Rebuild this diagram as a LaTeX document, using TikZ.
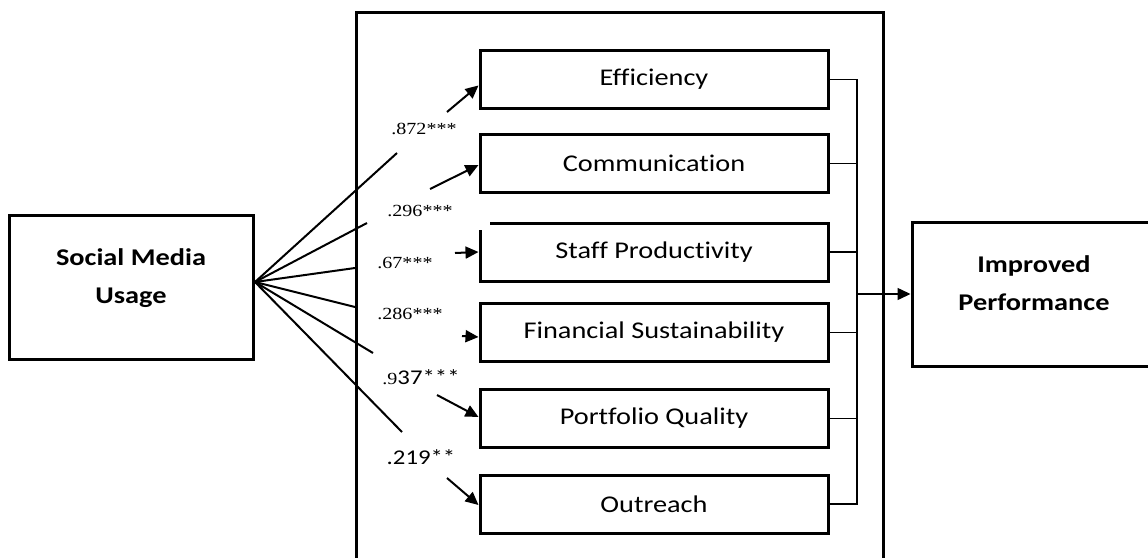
\documentclass[tikz,border=0pt]{standalone}
\usepackage{fontspec}
\setmainfont{Carlito}[FakeStretch=1.18,Ligatures=NoCommon]
\newfontfamily\seriffont{Liberation Serif}[FakeStretch=1.18]
\usetikzlibrary{arrows.meta}
\begin{document}
\begin{tikzpicture}[x=1pt,y=-1pt,
  box/.style={draw,line width=3pt,rectangle,inner sep=0pt,minimum height=58pt,
    minimum width=348pt,font=\fontsize{24}{29}\selectfont},
  bigbox/.style={draw,line width=3pt,rectangle,inner sep=0pt,minimum width=244pt,minimum height=144pt},
  boxtext/.style={align=center,inner sep=0pt,font=\fontsize{24}{38}\selectfont\bfseries},
  fanline/.style={line width=2pt},
  arr/.style={line width=2pt,-{Triangle[length=13pt,width=12pt]}},
  busline/.style={line width=1.5pt},
  coef/.style={anchor=base,inner sep=0pt,font=\fontsize{17}{20}\seriffont},
  coefsans/.style={anchor=base,inner sep=0pt,font=\fontsize{21}{24}\selectfont},
]
\clip (0,0) rectangle (1148,557);

% enclosing frame around the performance dimensions
\node[draw,line width=3pt,rectangle,inner sep=0pt,minimum width=527pt,minimum height=600pt,
  anchor=north west] (frame) at (355,11) {};

% outer variables
\node[bigbox] (smu) at (131,287) {};
\node[boxtext] (smutext) at (131,278) {Social Media\\Usage};
\node[bigbox] (perf) at (1034,294) {};
\node[boxtext] (perftext) at (1034,283.5) {Improved\\Performance};

% performance dimensions
\node[box] (eff)   at (654,79.5)  {Efficiency};
\node[box] (comm)  at (654,163.5) {Communication};
\node[box] (staff) at (654,252)   {Staff Productivity};
\node[box] (fin)   at (654,332.5) {Financial Sustainability};
\node[box] (port)  at (654,418.5) {Portfolio Quality};
\node[box] (outr)  at (654,504)   {Outreach};
\fill[white] (476,219) rectangle (489.5,229.5);

% collecting bus to the outcome
\coordinate (bus) at (857,294);
\draw[busline] (eff.east) -- (eff.east -| bus) -- (outr.east -| bus) -- (outr.east);
\foreach \n in {comm,staff,fin,port}
  \draw[busline] (\n.east) -- (\n.east -| bus);
\draw[busline,-{Triangle[length=13pt,width=12pt]}] (bus) -- (perf.west);

% fan of paths from social media usage
\coordinate (fan) at (255,282);
\coordinate (f1) at (397,153);
\coordinate (f2) at (367,223);
\coordinate (f3) at (355,268);
\coordinate (f4) at (355,307);
\coordinate (f5) at (373,353);
\coordinate (f6) at (402,432);
\foreach \e in {f1,f2,f3,f4,f5,f6}
  \draw[fanline] (fan) -- (\e);

% arrow heads into the dimensions
\coordinate (t1) at (447,112);
\coordinate (t2) at (430,189);
\coordinate (t3) at (455,253);
\coordinate (t4) at (462,336);
\coordinate (t5) at (437,395);
\coordinate (t6) at (447,478);
\draw[arr] (t1) -- ([yshift=-6pt]eff.west);
\draw[arr] (t2) -- ([yshift=-1.5pt]comm.west);
\draw[arr] (t3) -- (staff.west);
\draw[arr] (t4) -- ([yshift=-4.5pt]fin.west);
\draw[arr] (t5) -- ([yshift=1.5pt]port.west);
\draw[arr] (t6) -- ([yshift=-1pt]outr.west);

% path coefficients
\node[coef] (c1) at (424,134) {.872***};
\node[coef] (c2) at (420,216) {.296***};
\node[coef] (c3) at (405,268) {.67***};
\node[coef] (c4) at (410,319) {.286***};
\node[coefsans] (c5) at (421,384) {{\fontsize{17}{20}\seriffont .9}37***};
\node[coefsans] (c6) at (421,464) {.219**};
\end{tikzpicture}
\end{document}
